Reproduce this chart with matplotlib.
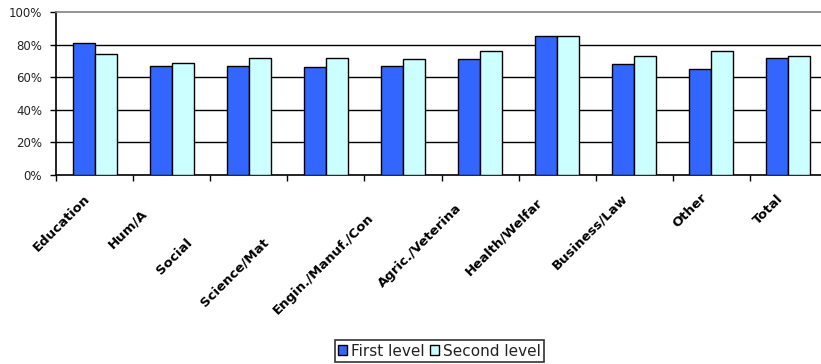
import matplotlib
matplotlib.use("Agg")
import matplotlib.pyplot as plt
import numpy as np

categories = ["Education", "Hum/A", "Social", "Science/Mat", "Engin./Manuf./Con",
              "Agric./Veterina", "Health/Welfar", "Business/Law", "Other", "Total"]
first_level = [81, 67, 67, 66, 67, 71, 85, 68, 65, 72]
second_level = [74, 69, 72, 72, 71, 76, 85, 73, 76, 73]
yticks = [0, 20, 40, 60, 80, 100]
ytick_labels = ["0%", "20%", "40%", "60%", "80%", "100%"]
series_names = ["First level", "Second level"]

# label end offsets (pixels) relative to category centre / axis bottom
label_dx = [-4, -24, -56, -57, -29, -18, -14, -6, -4, -5]
label_dy = [-18, -33, -62, -62, -37, -27, -22, -18, -17, -18]

W, H = 821, 364
fig = plt.figure(figsize=(W / 100, H / 100), dpi=100)
ax = fig.add_axes([56 / W, 189 / H, 771 / W, 163 / H])

x = np.arange(len(categories))
bw = 0.285
b1 = ax.bar(x + 0.5 - bw / 2, first_level, bw, color="#3366FF", edgecolor="black", linewidth=1.0, zorder=3)
b2 = ax.bar(x + 0.5 + bw / 2, second_level, bw, color="#CCFFFF", edgecolor="black", linewidth=1.0, zorder=3)

ax.set_xlim(0, len(categories))
ax.set_ylim(0, 100)
for v in yticks[1:-1]:
    ax.axhline(v, color="black", linewidth=1.0, zorder=1)

ax.spines["top"].set_color("#808080")
ax.spines["top"].set_linewidth(1.2)
ax.spines["right"].set_visible(False)
ax.spines["left"].set_color("black")
ax.spines["bottom"].set_color("black")
ax.spines["left"].set_linewidth(1.2)
ax.spines["bottom"].set_linewidth(1.2)

ax.set_yticks(yticks)
ax.set_yticklabels(ytick_labels, fontsize=8.5, color="#222222")
ax.tick_params(axis="y", direction="out", length=4, width=1, pad=6)
ax.set_xticks(np.arange(len(categories) + 1))
ax.set_xticklabels([])
ax.tick_params(axis="x", direction="out", length=4, width=1)

for i, lab in enumerate(categories):
    ax.annotate(lab, xy=(i + 0.5, 0), xycoords=("data", "axes fraction"),
                xytext=(label_dx[i] - 7, label_dy[i] + 1), textcoords="offset pixels",
                rotation=45, rotation_mode="anchor", ha="right", va="top",
                fontsize=9.5, fontweight="bold", color="black", annotation_clip=False)

leg = fig.legend([b1, b2], series_names, loc="center", bbox_to_anchor=(439.5 / W, 1 - 351 / H),
                 ncol=2, frameon=True, fancybox=False, fontsize=11,
                 handlelength=0.6, handleheight=0.6, handletextpad=0.3, columnspacing=0.3,
                 borderpad=0.2, borderaxespad=0)
leg.get_frame().set_edgecolor("black")
leg.get_frame().set_linewidth(1.2)
for t in leg.get_texts():
    t.set_color("#222222")

fig.savefig("out.png", dpi=100)
